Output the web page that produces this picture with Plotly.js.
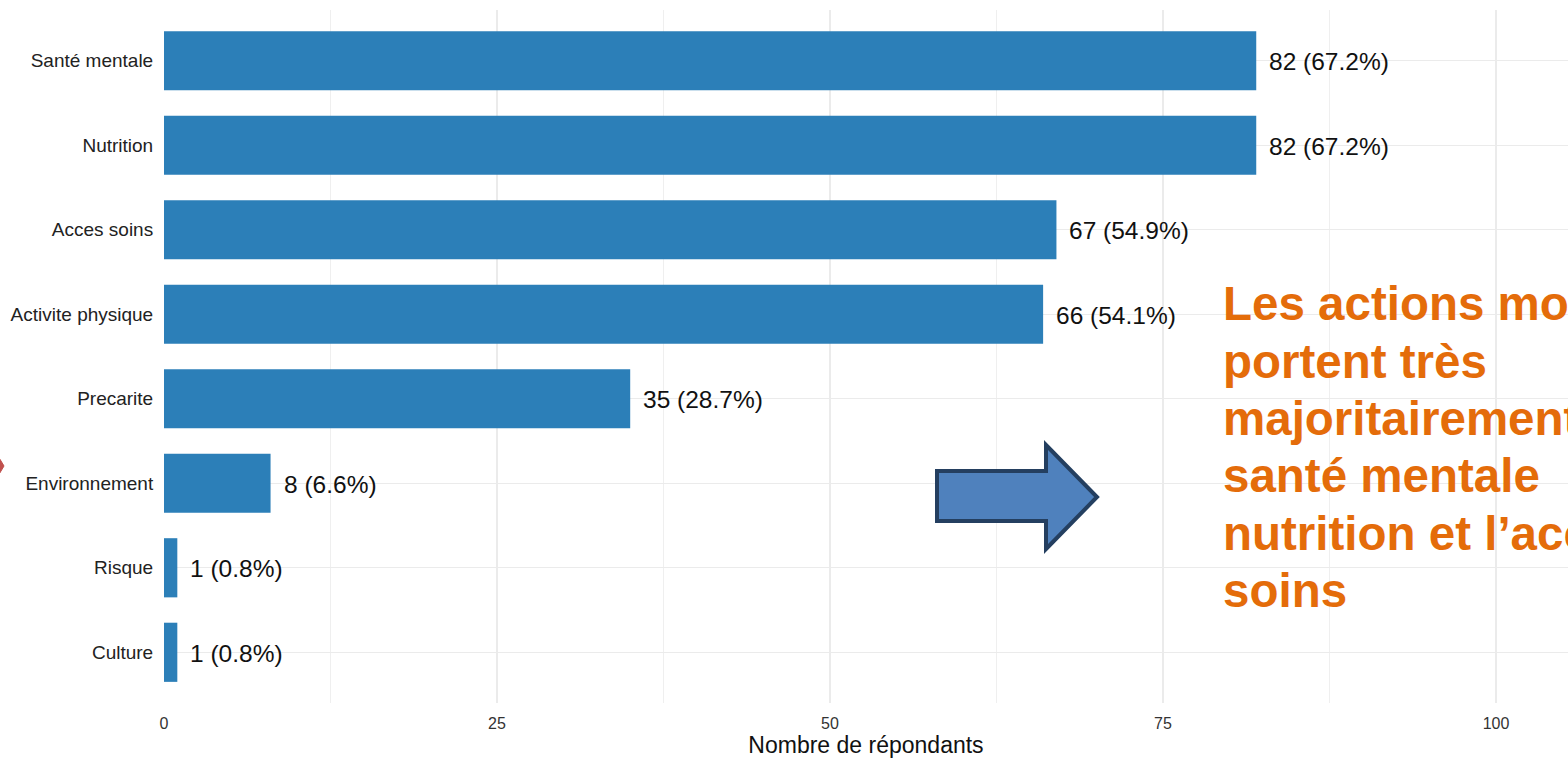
<!DOCTYPE html>
<html>
<head>
<meta charset="utf-8">
<script src="https://cdn.plot.ly/plotly-3.0.1.min.js"></script>
<style>
html,body{margin:0;padding:0;background:#fff;overflow:hidden;}
#chart{width:1568px;height:760px;}
</style>
</head>
<body>
<div id="chart"></div>
<script>
// Data
const categories = ["Santé mentale","Nutrition","Acces soins","Activite physique","Precarite","Environnement","Risque","Culture"];
const counts = [82, 82, 67, 66, 35, 8, 1, 1];
const percents = [67.2, 67.2, 54.9, 54.1, 28.7, 6.6, 0.8, 0.8];
const xTicks = [0, 25, 50, 75, 100];
const calloutLines = ["Les actions mobilisées", "portent très", "majoritairement sur la", "santé mentale", "nutrition et l’accès aux", "soins"];

const W = 1568, H = 760;
const M = {l: 164, r: 0, t: 10, b: 57};
const pw = W - M.l - M.r, ph = H - M.t - M.b;
const pxX = px => (px - M.l) / pw;
const pxY = py => 1 - (py - M.t) / ph;

const labels = counts.map((c, i) => c + " (" + percents[i].toFixed(1) + "%)");

const annotations = categories.map((c, i) => ({
  x: counts[i], y: c, xref: 'x', yref: 'y',
  text: labels[i], showarrow: false, xanchor: 'left', yanchor: 'middle',
  xshift: 11, yshift: -1, font: {family: 'Arial, "Liberation Sans", sans-serif', size: 24.5, color: '#111'}
}));

// Callout text lines (baselines approximately every 57.4 px starting at 320)
calloutLines.forEach((t, i) => {
  const baseline = 320 + i * 57.4;
  const center = baseline - 0.3465 * 47;
  annotations.push({
    x: pxX(1221), y: pxY(center), xref: 'paper', yref: 'paper',
    text: '<b>' + t + '</b>', showarrow: false, xanchor: 'left', yanchor: 'middle',
    font: {family: 'Arial, "Liberation Sans", sans-serif', size: 47.5, color: '#E46C0A'}
  });
});

function pathFromPx(pts) {
  return 'M ' + pts.map(p => pxX(p[0]).toFixed(5) + ',' + pxY(p[1]).toFixed(5)).join(' L ') + ' Z';
}

const arrowPts = [[937,471],[1046,471],[1046,445],[1097,497],[1046,549],[1046,521],[937,521]];
const redPts = [[-2,456],[4,466],[-2,476]];

const shapes = [
  {type: 'path', xref: 'paper', yref: 'paper', path: pathFromPx(arrowPts),
   fillcolor: '#4F81BD', line: {color: '#243F60', width: 4}, layer: 'above'},
  {type: 'path', xref: 'paper', yref: 'paper', path: pathFromPx(redPts),
   fillcolor: '#C0504D', line: {color: '#C0504D', width: 1}, layer: 'above'}
];

const trace = {
  type: 'bar', orientation: 'h',
  x: counts, y: categories,
  marker: {color: '#2C7FB8'},
  width: 0.7,
  hoverinfo: 'none'
};

const layout = {
  width: W, height: H,
  margin: M,
  paper_bgcolor: '#fff', plot_bgcolor: '#fff',
  showlegend: false,
  bargap: 0.3,
  xaxis: {
    range: [0, pw / 13.32],
    tickvals: xTicks, ticktext: xTicks.map(String),
    showgrid: true, gridcolor: '#EBEBEB', gridwidth: 1.2,
    minor: {dtick: 12.5, tick0: 0, showgrid: true, gridcolor: '#EFEFEF', gridwidth: 1},
    zeroline: false, showline: false,
    ticks: 'outside', ticklen: 6, tickcolor: 'rgba(0,0,0,0)',
    tickfont: {family: 'Arial, "Liberation Sans", sans-serif', size: 16, color: '#333'},
    title: {text: 'Nombre de répondants', standoff: 4,
            font: {family: 'Arial, "Liberation Sans", sans-serif', size: 23, color: '#111'}}
  },
  yaxis: {
    categoryorder: 'array', categoryarray: categories,
    range: [categories.length - 0.4, -0.6],
    showgrid: true, gridcolor: '#EBEBEB', gridwidth: 1.2,
    zeroline: false, showline: false,
    ticks: 'outside', ticklen: 6, tickcolor: 'rgba(0,0,0,0)',
    tickfont: {family: 'Arial, "Liberation Sans", sans-serif', size: 19, color: '#222'}
  },
  annotations: annotations,
  shapes: shapes
};

Plotly.newPlot('chart', [trace], layout, {displayModeBar: false, staticPlot: true});
</script>
</body>
</html>
